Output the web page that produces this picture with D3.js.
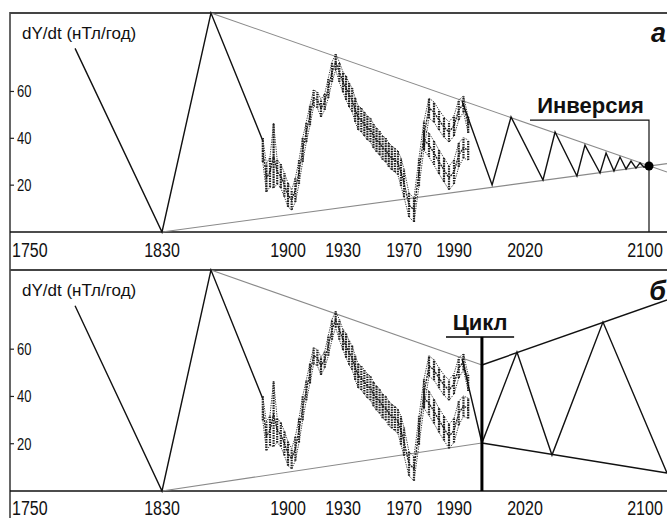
<!DOCTYPE html>
<html><head><meta charset="utf-8">
<script src="https://cdn.jsdelivr.net/npm/d3@7"></script>
<style>body{margin:0;background:#fff}svg{display:block}text{font-family:"Liberation Sans",Arial,sans-serif;fill:#111}</style>
</head><body><svg id="c" width="667" height="518"></svg>
<script>
// ---- data ----
const xTickYears = [1750, 1830, 1900, 1930, 1970, 1990, 2020, 2100];
const yTickValues = [20, 40, 60];
const yLabel = "dY/dt (нТл/год)";
const panelLetters = ["а", "б"];

// model curve before the observations (both panels)
const modelYears  = [1781.7, 1830, 1857.2, 1886];
const modelValues = [78.4, 0, 93.5, 39];

// observed secular variation (range per sample)
const obsYears = [1886,1888,1890,1892,1894,1896,1898,1900,1902,1904,1906,1908,1910,1912,1914,1916,1918,1920,1922,1924,1926,1928,1930,1932,1934,1936,1938,1940,1942,1944,1946,1948,1950,1952,1954,1956,1958,1960,1962,1964,1966,1968,1970,1972,1974,1976,1978,1980,1982,1984,1986,1988,1990,1992,1994,1996];
const obsLow  = [29.9,17.1,19.2,18.8,20.5,18.8,15.0,10.7,9.4,12.8,20.5,29.9,38.4,45.6,53.8,53.0,49.1,52.1,57.2,64.0,69.2,64.0,59.7,56.4,53.4,51.3,47.0,43.6,42.7,41.0,39.3,38.4,35.9,34.2,32.9,30.8,29.9,27.8,26.5,25.6,24.4,19.6,14.9,6.4,4.3,19.6,35.4,48.6,46.9,43.5,40.5,38.4,41.0,47.8,51.2,42.3];
const obsHigh = [40.1,29.1,32.0,46.5,30.7,29.0,25.2,20.9,18.0,23.0,30.7,40.1,47.0,54.2,60.6,59.8,56.7,58.9,65.8,72.6,76.0,72.6,68.3,66.6,63.6,61.5,57.2,53.8,52.9,51.2,49.5,48.6,46.1,44.4,43.1,41.0,40.1,38.0,36.7,35.8,34.6,31.6,26.9,16.6,14.5,31.6,47.4,57.2,55.5,52.1,49.1,47.0,49.6,56.4,58.0,49.1];
// lower branch of the observations
const obs2Years = [1978,1980,1982,1984,1986,1988,1990,1992,1994,1996];
const obs2Low   = [35.0,32.0,28.6,24.8,21.4,18.0,20.5,27.8,31.6,30.7];
const obs2High  = [43.6,42.2,38.8,35.0,31.6,28.2,30.7,38.0,40.2,39.3];

// panel а: damped forecast ("Инверсия")
const invYears  = [1993.4,2006.1,2014.1,2031.6,2039.4,2053.5,2058.7,2068.4,2072.3,2077.4,2081.3,2085.2,2088.4,2091.6,2094.2,2096.8,2100];
const invValues = [55.9,20.1,49.1,22.2,42.7,23.9,37.1,25.2,33.7,26.0,32.0,26.9,30.3,27.3,29.5,27.7,28.2];
const invUpperYears = [1857.2, 2111.6], invUpperValues = [93.5, 25.6];
const invLowerYears = [1830, 2111.6],   invLowerValues = [0, 29.2];
const invPointYear = 2100, invPointValue = 28.2;
const invBracketYears = [2023.2, 2100, 2100], invBracketValues = [47.8, 47.8, 0];
const invLabel = "Инверсия";

// panel б: growing forecast ("Цикл")
const cycYears  = [1993.4, 2001.8, 2016.6, 2037.4, 2070.3, 2111.6];
const cycValues = [55.9, 20.3, 58.8, 15.2, 71.5, 7.6];
const cycUpperOldYears = [1857.2, 2001.8], cycUpperOldValues = [93.5, 53.3];
const cycLowerOldYears = [1830, 2001.8],   cycLowerOldValues = [0, 20.3];
const cycUpperNewYears = [2001.8, 2111.6], cycUpperNewValues = [53.3, 80.8];
const cycLowerNewYears = [2001.8, 2111.6], cycLowerNewValues = [20.3, 7.6];
const cycMarkerYear = 2001.8;
const cycBracketYears = [1986.8, 2015.4], cycBracketValue = 65.2;
const cycLabel = "Цикл";

// ---- layout ----
const W = 667, H = 518, L = 10;
const svg = d3.select("#c");
const x = d3.scaleLinear().domain(xTickYears).range([18, 162, 288, 343, 404, 454, 525, 649]);
const panels = [{top: 13, bottom: 232, labBase: 257}, {top: 270, bottom: 491, labBase: 515}];

svg.append("line").attr("x1", L).attr("x2", L).attr("y1", 12).attr("y2", H)
  .attr("stroke", "#333").attr("stroke-width", 1.5);

const zip = (xs, ys) => xs.map((d, i) => [d, ys[i]]);

panels.forEach((p, pi) => {
  const y = d3.scaleLinear().domain([0, 93.5]).range([p.bottom, p.top]);
  const g = svg.append("g");
  const line = d3.line().x(d => x(d[0])).y(d => y(d[1]));
  // frame
  g.append("line").attr("x1", L).attr("x2", W).attr("y1", p.top).attr("y2", p.top)
    .attr("stroke", "#444").attr("stroke-width", 2);
  g.append("line").attr("x1", L).attr("x2", W).attr("y1", p.bottom).attr("y2", p.bottom)
    .attr("stroke", "#111").attr("stroke-width", 1.5);
  // y ticks
  yTickValues.forEach(v => {
    g.append("line").attr("x1", L).attr("x2", L + 4).attr("y1", y(v)).attr("y2", y(v))
      .attr("stroke", "#222").attr("stroke-width", 1.2);
    g.append("text").attr("transform", `translate(${L + 7},${y(v) + 6}) scale(1,1.25)`)
      .attr("font-size", 13).text(v);
  });
  g.append("text").attr("transform", `translate(22,${p.top + 26})`)
    .attr("font-size", 17).text(yLabel);
  // x tick labels
  xTickYears.forEach((t, i) => {
    const px = i === 0 ? L + 2 : (i === xTickYears.length - 1 ? x(t) - 4 : x(t));
    g.append("text").attr("transform", `translate(${px},${p.labBase}) scale(1,1.25)`)
      .attr("text-anchor", i === 0 ? "start" : "middle").attr("font-size", 16).text(t);
  });
  // panel letter
  g.append("text").attr("x", W - 1).attr("y", p.top + (pi === 0 ? 29 : 30))
    .attr("text-anchor", "end").attr("font-size", 27).attr("font-weight", "bold")
    .attr("font-style", "italic").text(panelLetters[pi]);

  const gray = "#8a8a8a";
  // envelope lines
  if (pi === 0) {
    g.append("path").attr("d", line(zip(invUpperYears, invUpperValues))).attr("fill", "none").attr("stroke", gray).attr("stroke-width", 1.1);
    g.append("path").attr("d", line(zip(invLowerYears, invLowerValues))).attr("fill", "none").attr("stroke", gray).attr("stroke-width", 1.1);
  } else {
    g.append("path").attr("d", line(zip(cycUpperOldYears, cycUpperOldValues))).attr("fill", "none").attr("stroke", gray).attr("stroke-width", 1.1);
    g.append("path").attr("d", line(zip(cycLowerOldYears, cycLowerOldValues))).attr("fill", "none").attr("stroke", gray).attr("stroke-width", 1.1);
    g.append("path").attr("d", line(zip(cycUpperNewYears, cycUpperNewValues))).attr("fill", "none").attr("stroke", "#111").attr("stroke-width", 1.4);
    g.append("path").attr("d", line(zip(cycLowerNewYears, cycLowerNewValues))).attr("fill", "none").attr("stroke", "#111").attr("stroke-width", 1.4);
  }
  // model start
  g.append("path").attr("d", line(zip(modelYears, modelValues))).attr("fill", "none")
    .attr("stroke", "#111").attr("stroke-width", 1.4);
  // observations
  const drawObs = (ys, lo, hi) => {
    ys.forEach((t, i) => {
      g.append("line").attr("x1", x(t)).attr("x2", x(t)).attr("y1", y(lo[i])).attr("y2", y(hi[i]))
        .attr("stroke", "#1a1a1a").attr("stroke-width", 2.2).attr("stroke-dasharray", "1.6,0.9");
    });
    const mid = ys.map((t, i) => [t, (lo[i] + hi[i]) / 2]);
    [zip(ys, lo), zip(ys, hi)].forEach(arr => {
      g.append("path").attr("d", line(arr)).attr("fill", "none").attr("stroke", "#333")
        .attr("stroke-width", 1).attr("stroke-dasharray", "1.2,1.2");
    });
    g.append("path").attr("d", line(mid)).attr("fill", "none").attr("stroke", "#222")
      .attr("stroke-width", 1.4).attr("stroke-dasharray", "2,1");
  };
  drawObs(obsYears, obsLow, obsHigh);
  drawObs(obs2Years, obs2Low, obs2High);

  if (pi === 0) {
    g.append("path").attr("d", line(zip(invYears, invValues))).attr("fill", "none")
      .attr("stroke", "#111").attr("stroke-width", 1.4);
    g.append("path").attr("d", line(zip(invBracketYears, invBracketValues))).attr("fill", "none")
      .attr("stroke", "#111").attr("stroke-width", 1.2);
    g.append("circle").attr("cx", x(invPointYear)).attr("cy", y(invPointValue)).attr("r", 4.5).attr("fill", "#000");
    g.append("text").attr("x", (x(invBracketYears[0]) + x(invBracketYears[1])) / 2 + 1)
      .attr("y", y(invBracketValues[0]) - 7).attr("text-anchor", "middle")
      .attr("font-size", 22).attr("font-weight", "bold").text(invLabel);
  } else {
    g.append("path").attr("d", line(zip(cycYears, cycValues))).attr("fill", "none")
      .attr("stroke", "#111").attr("stroke-width", 1.4);
    g.append("line").attr("x1", x(cycMarkerYear)).attr("x2", x(cycMarkerYear))
      .attr("y1", y(cycBracketValue)).attr("y2", y(0)).attr("stroke", "#000").attr("stroke-width", 3);
    g.append("line").attr("x1", x(cycBracketYears[0])).attr("x2", x(cycBracketYears[1]))
      .attr("y1", y(cycBracketValue)).attr("y2", y(cycBracketValue)).attr("stroke", "#000").attr("stroke-width", 1.5);
    g.append("text").attr("x", (x(cycBracketYears[0]) + x(cycBracketYears[1])) / 2)
      .attr("y", y(cycBracketValue) - 7).attr("text-anchor", "middle")
      .attr("font-size", 22).attr("font-weight", "bold").text(cycLabel);
  }
});
</script></body></html>
